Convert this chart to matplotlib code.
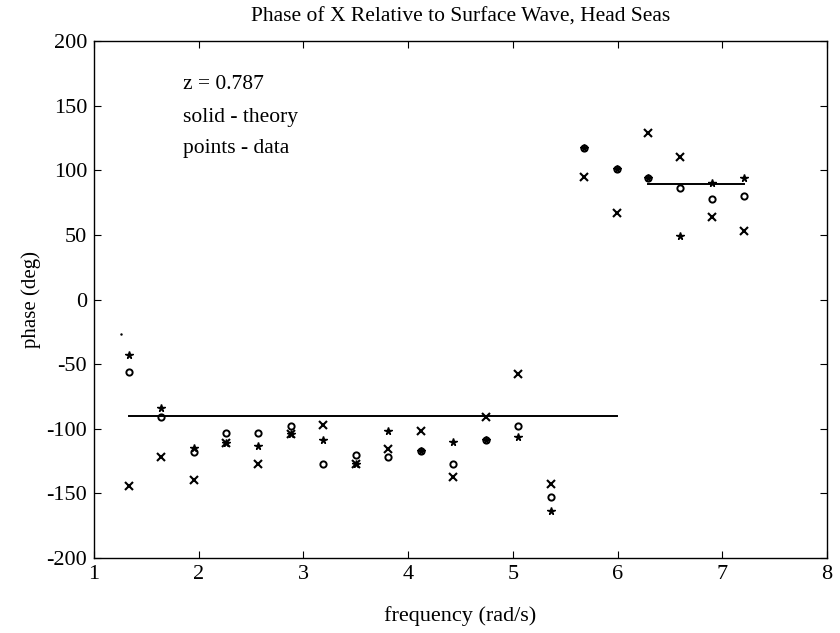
import numpy as np
import matplotlib.pyplot as plt

plt.rcParams['font.family'] = ['Liberation Serif', 'DejaVu Serif']
plt.rcParams['axes.unicode_minus'] = False

# data frequencies (rad/s)
freq = [1.33, 1.64, 1.95, 2.26, 2.57, 2.88, 3.19, 3.50, 3.81, 4.12,
        4.43, 4.74, 5.05, 5.36, 5.68, 5.99, 6.29, 6.60, 6.90, 7.21]

# measured phases (deg), three records
phase_x = [-144, -122, -140, -111, -127, -104, -97, -127, -116, -102,
           -137, -91, -58, -143, 95, 67, 129, 110, 64, 53]
phase_o = [-56, -91, -118, -103, -103, -98, -127, -120, -122, -117,
           -127, -109, -98, -153, 117, 101, 94, 86, 78, 80]
phase_s = [-43, -84, -115, -111, -113, -104, -109, -127, -102, -117,
           -110, -109, -106, -164, 117, 101, 94, 49, 90, 94]

# theory (two branches)
theory_f1 = [1.33, 1.64, 1.95, 2.26, 2.57, 2.88, 3.19, 3.50, 3.81, 4.12,
             4.43, 4.74, 5.05, 5.36, 5.68, 5.99]
theory_p1 = [-90, -90, -90, -90, -90, -90, -90, -90, -90, -90,
             -90, -90, -90, -90, -90, -90]
theory_f2 = [6.29, 6.60, 6.90, 7.21]
theory_p2 = [89, 89, 89, 89]

stray_f = [1.255]
stray_p = [-27]

fig = plt.figure(figsize=(8.4, 6.33), dpi=100)
ax = fig.add_axes([0.112, 0.1185, 0.8725, 0.8167])

ax.plot(theory_f1, theory_p1, color='k', lw=1.4)
ax.plot(theory_f2, theory_p2, color='k', lw=1.4)
ax.plot(freq, phase_x, 'x', color='k', ms=5.5, mew=1.5)
ax.plot(freq, phase_o, 'o', color='k', ms=4.5, mfc='none', mew=1.4)
ax.plot(freq, phase_s, '*', color='k', ms=5.5)
ax.plot(stray_f, stray_p, '.', color='k', ms=1.5)

ax.set_xlim(1, 8)
ax.set_ylim(-200, 200)
ax.set_xticks(np.arange(1, 9))
ax.set_yticks(np.arange(-200, 201, 50))
ax.tick_params(direction='in', top=True, right=True, labelsize=16, length=5, pad=5)
for s in ax.spines.values():
    s.set_linewidth(1.0)

ax.text(1.85, 166, 'z = 0.787', fontsize=15.5, va='center')
ax.text(1.85, 141, 'solid - theory', fontsize=15.5, va='center')
ax.text(1.85, 117, 'points - data', fontsize=15.5, va='center')

ax.set_title('Phase of X Relative to Surface Wave, Head Seas', fontsize=15.5, pad=14)
ax.set_xlabel('frequency (rad/s)', fontsize=16, labelpad=16)
ax.set_ylabel('phase (deg)', fontsize=15, labelpad=4)

fig.savefig('out.png', dpi=100)
